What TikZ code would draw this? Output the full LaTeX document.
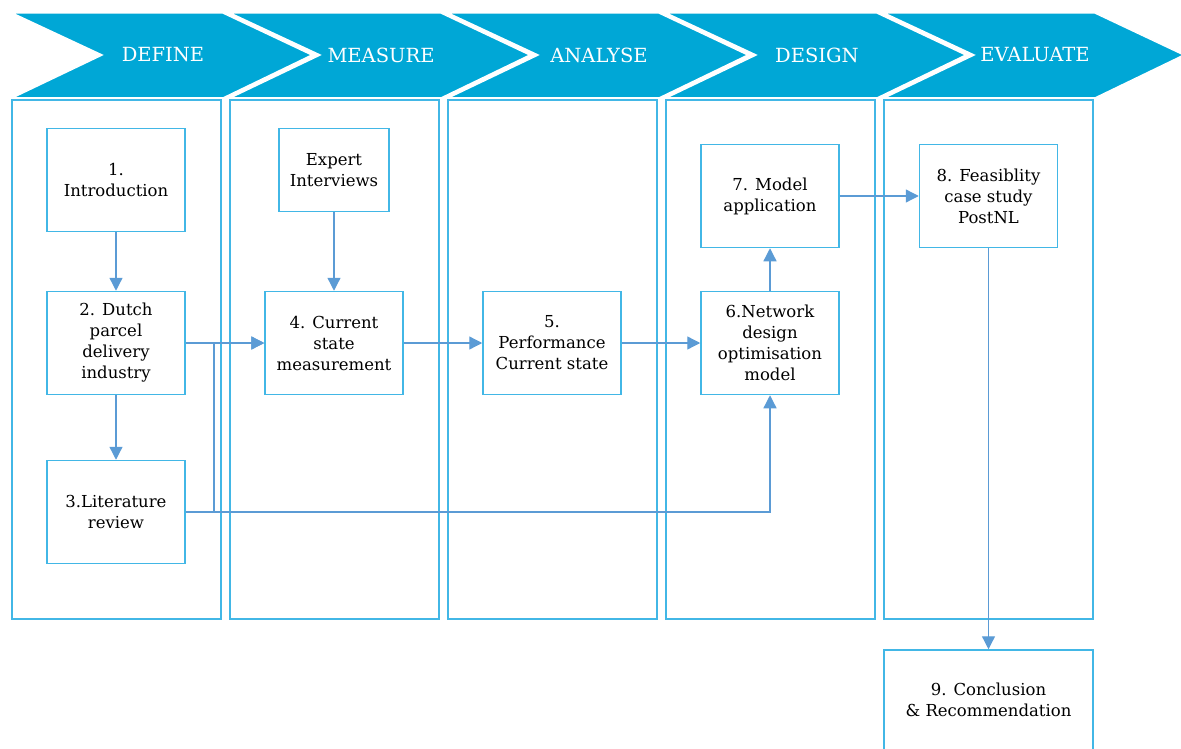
\documentclass[tikz,border=0pt]{standalone}
\usepackage{fontspec}
\setmainfont{DejaVu Serif}
\usetikzlibrary{arrows.meta}
\definecolor{chevblue}{RGB}{0,167,214}
\definecolor{frameblue}{RGB}{66,183,230}
\definecolor{linkblue}{RGB}{91,155,213}
\tikzset{
	phase/.style = {fill=chevblue, draw=white, line width=1.5pt},
	phaselabel/.style = {text=white, font=\fontsize{19.5}{22}\selectfont},
	column/.style = {draw=frameblue, line width=1.2pt},
	stepbox/.style = {draw=frameblue, line width=1.5pt, fill=white, align=center,
		minimum width=138, minimum height=103, inner sep=2pt,
		font=\fontsize{16.5}{21}\selectfont},
	link/.style = {draw=linkblue, line width=1.3pt, -{Triangle[length=13pt,width=13pt]}},
}

\begin{document}
\begin{tikzpicture}[x=1pt, y=-1pt]
	\clip (0,0) rectangle (1181,749);
	
	% phases and their columns
	\foreach \lab [count=\i from 0] in {DEFINE,MEASURE,ANALYSE,DESIGN,EVALUATE} {
		\pgfmathsetmacro\xo{12+218*\i}
		\draw[phase] (\xo,13) -- ++(211,0) -- ++(89,42) -- ++(-89,43) -- ++(-211,0) -- ++(90,-43) -- cycle;
		\node[phaselabel] (ph\i) at (\xo+151,55) {\lab};
		\draw[column] (\xo,100) rectangle ++(209,519);
	}
	
	\node[stepbox] (intro) at (116,180) {1.\\Introduction};
	\node[stepbox] (dutch) at (116,343) {2. Dutch\\parcel\\delivery\\industry};
	\node[stepbox] (lit) at (116,512) {3.Literature\\review};
	\node[stepbox, minimum width=110, minimum height=83] (expert) at (334,170) {Expert\\Interviews};
	\node[stepbox] (curr) at (334,343) {4. Current\\state\\measurement};
	\node[stepbox] (perf) at (552,343) {5.\\Performance\\Current state};
	\node[stepbox] (netw) at (770,343) {6.Network\\design\\optimisation\\model};
	\node[stepbox] (appl) at (770,196) {7. Model\\application};
	\node[stepbox] (feas) at (988.5,196) {8. Feasiblity\\case study\\PostNL};
	\node[stepbox, minimum width=209, minimum height=100] (concl) at (988.5,700) {9. Conclusion\\\& Recommendation};
	
	\coordinate (join) at (214,343);
	
	\draw[link] (intro) -- (dutch);
	\draw[link] (dutch) -- (lit);
	\draw[link] (expert) -- (curr);
	\draw[link] (dutch) -- (curr);
	\draw[link] (lit.east) -| (join) -- (curr.west);
	\draw[link] (lit.east) -| (netw.south);
	\draw[link] (curr) -- (perf);
	\draw[link] (perf) -- (netw);
	\draw[link] (netw) -- (appl);
	\draw[link] (appl) -- (feas);
	\draw[link] (feas) -- (concl);
\end{tikzpicture}
\end{document}
